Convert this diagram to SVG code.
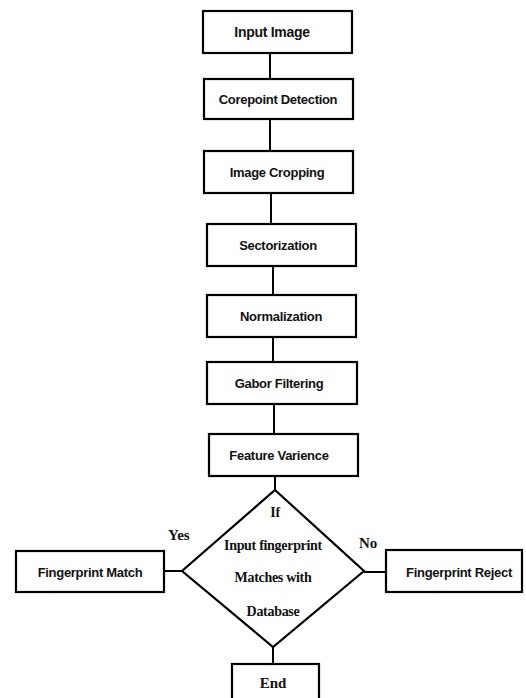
<svg xmlns="http://www.w3.org/2000/svg" width="526" height="698" viewBox="0 0 526 698">
<style>
.box{fill:#fff;stroke:#000;stroke-width:2.2}
.lbl{font-family:"Liberation Sans",Arial,sans-serif;font-weight:bold;font-size:13px;text-anchor:middle;fill:#111;letter-spacing:-0.3px}
.ser{font-family:"Liberation Serif","Times New Roman",serif;font-weight:bold;fill:#111}
.dt{font-size:14px;text-anchor:middle;letter-spacing:-0.3px}
.yn{font-size:15px}
.con{fill:none;stroke:#000;stroke-width:2}
</style>
<rect width="526" height="698" fill="#fff"/>
<g id="connectors">
<line class="con" x1="270" y1="53" x2="270" y2="79"/>
<line class="con" x1="270" y1="119" x2="270" y2="151"/>
<line class="con" x1="271" y1="193" x2="271" y2="224"/>
<line class="con" x1="273" y1="266" x2="273" y2="295"/>
<line class="con" x1="273" y1="337" x2="273" y2="362"/>
<line class="con" x1="274" y1="404" x2="274" y2="434"/>
<line class="con" x1="275" y1="476" x2="275" y2="490"/>
<line class="con" x1="164" y1="571" x2="182" y2="571"/>
<line class="con" x1="364" y1="572" x2="386" y2="572"/>
<line class="con" x1="273" y1="647" x2="273" y2="664"/>
</g>
<g id="input-image"><rect class="box" x="203" y="11" width="149" height="42"/><text class="lbl" x="272" y="37" style="font-size:14px">Input Image</text></g>
<g id="corepoint-detection"><rect class="box" x="204" y="79" width="149" height="40"/><text class="lbl" x="278" y="104">Corepoint Detection</text></g>
<g id="image-cropping"><rect class="box" x="204" y="151" width="149" height="42"/><text class="lbl" x="277" y="177">Image Cropping</text></g>
<g id="sectorization"><rect class="box" x="207" y="224" width="149" height="42"/><text class="lbl" x="278" y="250">Sectorization</text></g>
<g id="normalization"><rect class="box" x="207" y="295" width="149" height="42"/><text class="lbl" x="281" y="321">Normalization</text></g>
<g id="gabor-filtering"><rect class="box" x="207" y="362" width="150" height="42"/><text class="lbl" x="279" y="388">Gabor Filtering</text></g>
<g id="feature-varience"><rect class="box" x="209" y="434" width="149" height="42"/><text class="lbl" x="279" y="460">Feature Varience</text></g>
<g id="decision">
<polygon class="box" points="275,490 364,571 273,647 182,571"/>
<text class="ser dt" x="275" y="517">If</text>
<text class="ser dt" x="273" y="550">Input fingerprint</text>
<text class="ser dt" x="273" y="582">Matches with</text>
<text class="ser dt" x="273" y="616">Database</text>
</g>
<text class="ser yn" x="168" y="540">Yes</text>
<text class="ser yn" x="359" y="548">No</text>
<g id="fingerprint-match"><rect class="box" x="16" y="551" width="148" height="41"/><text class="lbl" x="90" y="577">Fingerprint Match</text></g>
<g id="fingerprint-reject"><rect class="box" x="386" y="550" width="136" height="42"/><text class="lbl" x="459" y="577">Fingerprint Reject</text></g>
<g id="end"><rect class="box" x="232" y="664" width="87" height="36"/><text class="ser yn" x="273" y="688" text-anchor="middle">End</text></g>
</svg>
